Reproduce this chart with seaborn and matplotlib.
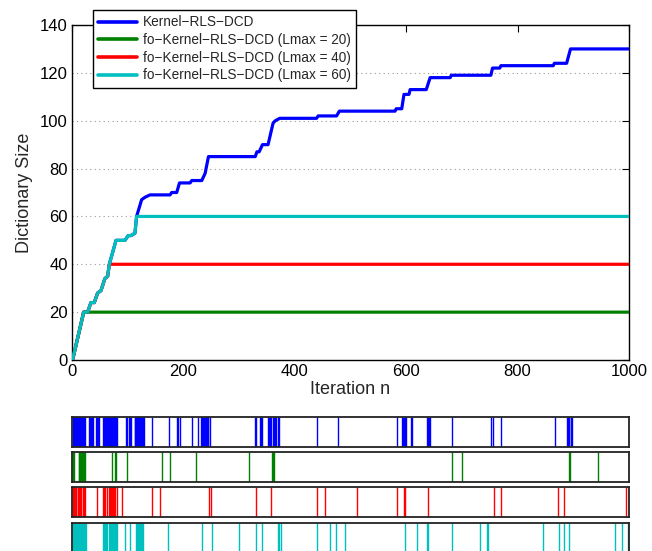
import numpy as np
import pandas as pd
import matplotlib
matplotlib.use("Agg")
import matplotlib.pyplot as plt
import seaborn as sns

# ---------------- data ----------------
iter_n = [1, 21, 28, 34, 40, 46, 52, 59, 64, 67, 73, 79, 95, 101, 106, 113, 116, 125, 131,
          140, 176, 179, 188, 193, 212, 215, 233, 239, 245, 329, 332, 336, 342, 352, 361,
          365, 373, 439, 442, 475, 480, 580, 582, 592, 596, 605, 607, 636, 643, 679, 681,
          752, 755, 768, 770, 864, 866, 888, 895, 1000]
dict_size = [0, 20, 20, 24, 24, 28, 29, 34, 35, 40, 45, 50, 50, 52, 52, 53, 60, 67, 68,
             69, 69, 70, 70, 74, 74, 75, 75, 78, 85, 85, 87, 87, 90, 90, 99,
             100, 101, 101, 102, 102, 104, 104, 105, 105, 111, 111, 113, 113, 118, 118, 119,
             119, 122, 122, 123, 123, 124, 124, 130, 130]
lmax_values = [20, 40, 60]

labels = ["Kernel\u2212RLS\u2212DCD",
          "fo\u2212Kernel\u2212RLS\u2212DCD (Lmax = 20)",
          "fo\u2212Kernel\u2212RLS\u2212DCD (Lmax = 40)",
          "fo\u2212Kernel\u2212RLS\u2212DCD (Lmax = 60)"]
colors = ["#0000ff", "#008000", "#ff0000", "#00bfbf"]

events_blue = [1, 2, 3, 4, 5, 6, 7, 8, 9, 10, 11, 12, 13, 14, 15, 16, 17, 18, 19, 20, 21, 22, 24,
               31, 32, 34, 36, 38, 43, 45, 47, 49, 55, 57, 59, 61, 63,
               64, 65, 66, 67, 68, 69, 70, 71, 72, 73, 74, 75, 76, 77, 78, 79, 80,
               97, 99, 102, 104, 106,
               113, 114, 115, 116, 117, 118, 119, 120, 121, 122, 123, 124, 125, 126, 127, 128,
               130, 143, 175, 189, 191, 193, 215, 227, 231, 233, 235, 237, 239, 240, 241, 242,
               243, 244, 245, 247, 329, 331, 338, 340, 342, 352, 354, 356, 358, 360, 362, 364,
               365, 367, 369, 372, 440, 478, 583, 592, 594, 596, 598, 600, 608, 610,
               637, 639, 641, 643, 682, 752, 755, 770, 867, 889, 890, 892, 893, 895, 897]
events_green = [1, 2, 4, 12, 13, 14, 15, 16, 17, 18, 19, 20, 21, 23, 72, 77, 79, 98, 161, 176,
                223, 317, 359, 361, 363, 682, 700, 893, 894, 945]
events_red = [1, 2, 3, 5, 6, 7, 8, 10, 11, 12, 14, 15, 17, 19, 20, 21, 23, 44, 56, 58, 60, 62,
              67, 68, 69, 70, 71, 72, 73, 74, 75, 76, 78, 80, 89, 143, 158, 246, 249, 331, 358,
              440, 454, 512, 583, 596, 598, 640, 758, 770, 872, 884, 994]
events_cyan = [1, 2, 3, 4, 5, 6, 7, 8, 9, 10, 11, 12, 13, 14, 15, 16, 17, 18, 19, 20, 21, 22,
               23, 24, 25, 55, 57, 59, 61, 62, 67, 68, 69, 70, 71, 72, 73, 74, 75, 76, 77, 78,
               79, 80, 96, 104, 115, 116, 117, 118, 119, 120, 121, 122, 123, 124, 125, 126, 127,
               173, 233, 251, 299, 331, 342, 369, 372, 375, 440, 464, 474, 491, 598, 620, 638,
               640, 682, 732, 745, 747, 846, 874, 884, 893, 975, 987, 999]
events_all = [events_blue, events_green, events_red, events_cyan]

# ---------------- style ----------------
sns.set_theme(style="white")
plt.rcParams["font.family"] = ["Liberation Sans", "DejaVu Sans"]
plt.rcParams["axes.edgecolor"] = "black"
plt.rcParams["axes.linewidth"] = 1.0

fig = plt.figure(figsize=(6.52, 5.51), dpi=100)
W, H = 652.0, 551.0

def fig_rect(left, top, right, bottom):
    return [left / W, 1 - bottom / H, (right - left) / W, (bottom - top) / H]

ax = fig.add_axes(fig_rect(72, 25, 629, 360))

frames = []
base = pd.DataFrame({"n": iter_n, "size": dict_size, "series": labels[0]})
frames.append(base)
for lab, lm in zip(labels[1:], lmax_values):
    frames.append(pd.DataFrame({"n": iter_n,
                                "size": np.minimum(np.array(dict_size), lm),
                                "series": lab}))
df = pd.concat(frames, ignore_index=True)

sns.lineplot(data=df, x="n", y="size", hue="series", palette=dict(zip(labels, colors)),
             hue_order=labels, estimator=None, sort=False, linewidth=2.3, ax=ax,
             legend=False, zorder=3)

ax.set_xlim(0, 1000)
ax.set_ylim(0, 140)
ax.set_xticks([0, 200, 400, 600, 800, 1000])
ax.set_yticks(list(range(0, 141, 20)))
ax.tick_params(direction="in", length=5, width=0.8, top=True, right=True,
               labelsize=12, pad=3, colors="black")
ax.yaxis.grid(True, linestyle=(0, (1, 3)), color="#9a9a9a", linewidth=0.8)
ax.xaxis.grid(False)
ax.set_axisbelow(True)
ax.set_xlabel("Iteration n", fontsize=13, labelpad=1)
ax.set_ylabel("Dictionary Size", fontsize=13, labelpad=5)
for s in ax.spines.values():
    s.set_color("black")
    s.set_linewidth(1.0)

handles = [plt.Line2D([], [], color=c, lw=2.6) for c in colors]
leg = ax.legend(handles, labels, loc="upper left", bbox_to_anchor=(0.0377, 1.045),
                borderaxespad=0, fontsize=9.8, frameon=True, fancybox=False,
                edgecolor="black", handlelength=2.8, handletextpad=0.45,
                labelspacing=0.27, borderpad=0.4, framealpha=1)
leg.get_frame().set_linewidth(1.0)
leg.set_zorder(10)

# ---------------- event rasters ----------------
strip_tops = [417, 452, 487, 523]
for top, ev, c in zip(strip_tops, events_all, colors):
    sax = fig.add_axes(fig_rect(72, top, 629, top + 30))
    sax.eventplot(ev, lineoffsets=0.5, linelengths=1.0, colors=c, linewidths=1.0)
    sax.set_xlim(0, 1000)
    sax.set_ylim(0, 1)
    sax.set_xticks([])
    sax.set_yticks([])
    for s in sax.spines.values():
        s.set_color("#222222")
        s.set_linewidth(1.3)
        s.set_visible(True)

fig.savefig("out.png", dpi=100, facecolor="white")
